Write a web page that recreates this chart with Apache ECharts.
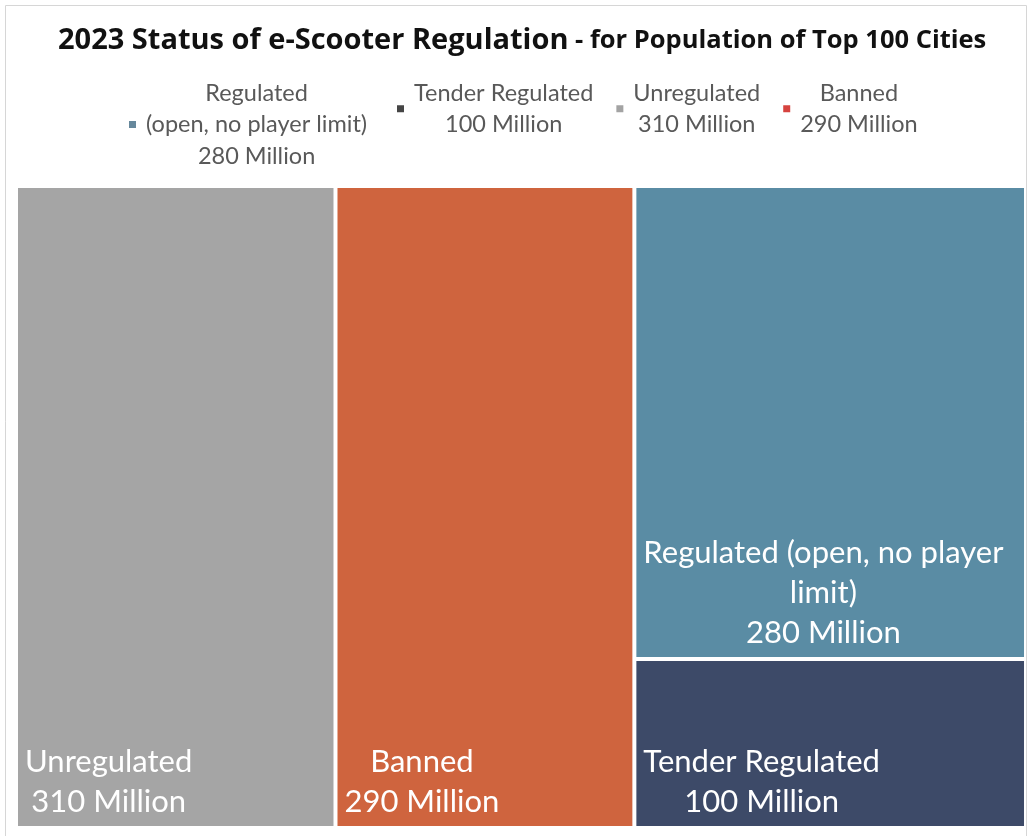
<!DOCTYPE html>
<html>
<head>
<meta charset="utf-8">
<script src="https://cdn.jsdelivr.net/npm/echarts@6/dist/echarts.min.js"></script>
<style>
  html, body { margin: 0; padding: 0; background: #ffffff; }
  #chart { width: 1028px; height: 836px; }
</style>
</head>
<body>
<div id="chart"></div>
<script>
// ---------- data ----------
const titleMain = '2023 Status of e-Scooter Regulation';
const titleSub = ' - for Population of Top 100 Cities';
const categories = ['Regulated (open, no player limit)', 'Tender Regulated', 'Unregulated', 'Banned'];
const populationMillions = [280, 100, 310, 290];
// column of the treemap each category sits in (left to right); stacked top to bottom in list order
const columnOf = [2, 2, 0, 1];
const unitSuffix = ' Million';

// ---------- styles ----------
const fillColors = ['#5A8CA4', '#3D4A68', '#A5A5A5', '#CF643E'];
const legendIconColors = ['#66889C', '#454545', '#A3A3A3', '#D6433F'];
const LABEL_FONT_SIZE = 31;
const LABEL_FONT_FAMILY = 'Lato';
const LABEL_LINE_HEIGHT = 40;
const LABEL_PAD = 7;
const HALF_GAP = 2;

// ---------- layout values derived from data ----------
const nCols = Math.max.apply(null, columnOf) + 1;
const colTotals = new Array(nCols).fill(0);
categories.forEach((c, i) => { colTotals[columnOf[i]] += populationMillions[i]; });
const colStart = [];
let acc = 0;
for (let k = 0; k < nCols; k++) { colStart[k] = acc; acc += colTotals[k]; }
const grandTotal = acc;
const colUsed = new Array(nCols).fill(0);
const cells = categories.map((name, i) => {
  const k = columnOf[i];
  const top = 100 - colUsed[k] / colTotals[k] * 100;
  colUsed[k] += populationMillions[i];
  const bottom = 100 - colUsed[k] / colTotals[k] * 100;
  return [colStart[k], colStart[k] + colTotals[k], bottom, top, populationMillions[i]];
});

const measureCtx = document.createElement('canvas').getContext('2d');
function wrapWords(text, maxWidth, font) {
  measureCtx.font = font;
  const words = text.split(' ');
  const lines = [];
  let cur = '';
  words.forEach(w => {
    const t = cur ? cur + ' ' + w : w;
    if (cur && measureCtx.measureText(t).width > maxWidth) { lines.push(cur); cur = w; }
    else { cur = t; }
  });
  if (cur) lines.push(cur);
  return lines;
}

function renderCell(params, api) {
  const p0 = api.coord([api.value(0), api.value(3)]);
  const p1 = api.coord([api.value(1), api.value(2)]);
  const x = p0[0] + HALF_GAP, y = p0[1] + HALF_GAP;
  const w = p1[0] - p0[0] - 2 * HALF_GAP, h = p1[1] - p0[1] - 2 * HALF_GAP;
  const font = LABEL_FONT_SIZE + 'px ' + LABEL_FONT_FAMILY;
  const lines = wrapWords(params.seriesName, w - 2 * LABEL_PAD, font)
    .concat([api.value(4) + unitSuffix]);
  const text = lines.map(l => '{c|' + l + '}').join('\n');
  return {
    type: 'rect',
    shape: { x: x, y: y, width: w, height: h },
    style: { fill: api.visual('color') },
    textContent: {
      style: {
        text: text,
        fill: '#ffffff',
        rich: {
          c: {
            align: 'center',
            fill: '#ffffff',
            fontSize: LABEL_FONT_SIZE,
            fontFamily: LABEL_FONT_FAMILY,
            lineHeight: LABEL_LINE_HEIGHT
          }
        }
      }
    },
    textConfig: { position: 'insideBottomLeft', distance: LABEL_PAD, offset: [0, 3], inside: true }
  };
}

function legendFormatter(name) {
  const i = categories.indexOf(name);
  const nameLines = name.replace(' (', '\n(').split('\n');
  return nameLines.concat([populationMillions[i] + unitSuffix]).map(l => '{c|' + l + '}').join('\n');
}

const legendCommon = {
  orient: 'horizontal',
  padding: 0,
  itemWidth: 17,
  itemHeight: 7,
  itemGap: 23,
  icon: 'path://M0,0H10V10H0Z',
  selectedMode: false,
  formatter: legendFormatter,
  textStyle: {
    rich: {
      c: { align: 'center', fontSize: 23.5, lineHeight: 31.5, color: '#595959', fontFamily: 'Lato' }
    }
  }
};
const legendItem = i => ({ name: categories[i], itemStyle: { color: legendIconColors[i] } });

const chart = echarts.init(document.getElementById('chart'), null, { renderer: 'canvas' });
chart.setOption({
  animation: false,
  backgroundColor: '#ffffff',
  title: {
    text: '{a|' + titleMain + '}{b|' + titleSub + '}',
    left: 58,
    top: 23,
    padding: 0,
    textStyle: {
      rich: {
        a: { fontSize: 29, fontWeight: 'bold', fontFamily: 'Open Sans', color: '#111111', lineHeight: 36 },
        b: { fontSize: 25.5, fontWeight: 'bold', fontFamily: 'Open Sans', color: '#111111', lineHeight: 36 }
      }
    }
  },
  legend: [
    Object.assign({}, legendCommon, { left: 129, top: 81, data: [legendItem(0)] }),
    Object.assign({}, legendCommon, { left: 397, top: 81, data: [legendItem(1), legendItem(2), legendItem(3)] })
  ],
  grid: { left: 16, right: 2, top: 186, bottom: 8 },
  xAxis: { type: 'value', min: 0, max: grandTotal, show: false },
  yAxis: { type: 'value', min: 0, max: 100, show: false },
  graphic: [{
    type: 'rect',
    shape: { x: 5.5, y: 5.5, width: 1021, height: 840 },
    style: { fill: null, stroke: '#d6d6d6', lineWidth: 1 },
    silent: true
  }],
  series: cells.map((cell, i) => ({
    type: 'custom',
    name: categories[i],
    coordinateSystem: 'cartesian2d',
    itemStyle: { color: fillColors[i] },
    encode: { x: [0, 1], y: [2, 3] },
    data: [cell],
    renderItem: renderCell,
    silent: true
  }))
});
</script>
</body>
</html>
